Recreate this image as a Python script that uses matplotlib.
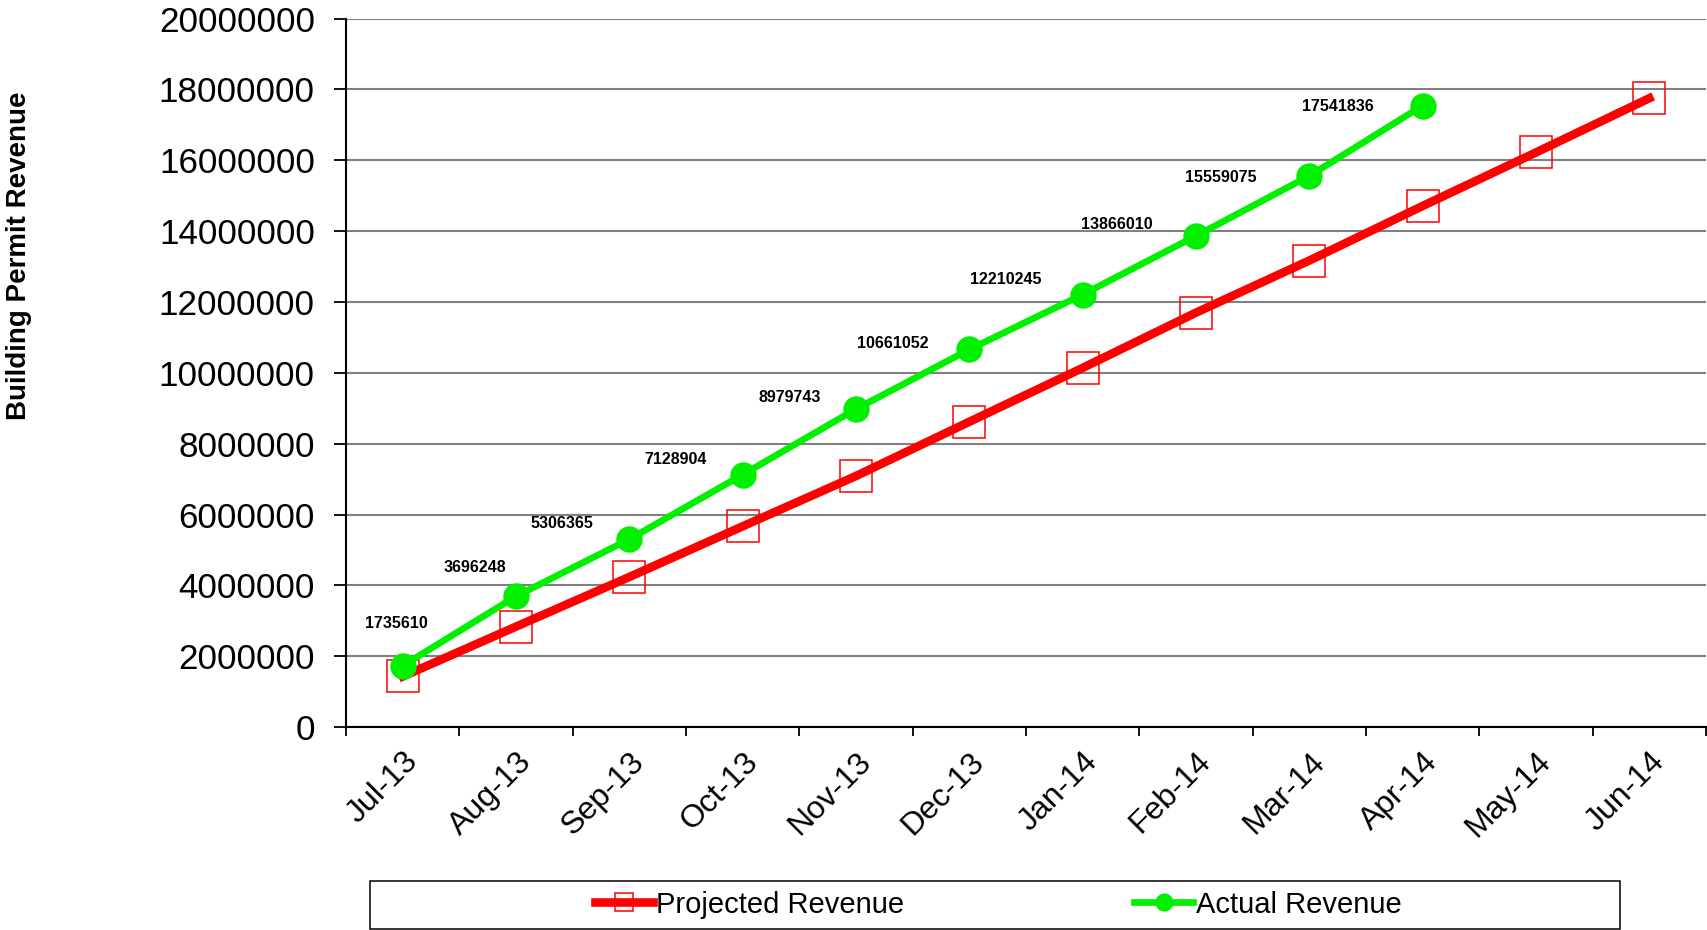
import numpy as np
import matplotlib
matplotlib.use("Agg")
import matplotlib.pyplot as plt
import matplotlib.transforms as mtransforms
from matplotlib.lines import Line2D
from matplotlib.patches import Rectangle

plt.rcParams['font.family'] = ['Liberation Sans', 'DejaVu Sans']

# Data
months = ["Jul-13", "Aug-13", "Sep-13", "Oct-13", "Nov-13", "Dec-13",
          "Jan-14", "Feb-14", "Mar-14", "Apr-14", "May-14", "Jun-14"]
projected = [1430000, 2840000, 4240000, 5670000, 7090000, 8620000,
             10140000, 11700000, 13170000, 14710000, 16220000, 17750000]
actual = [1735610, 3696248, 5306365, 7128904, 8979743, 10661052,
          12210245, 13866010, 15559075, 17541836]
y_ticks = np.arange(0, 20000001, 2000000)

# value label offsets in points (dx, dy up)
label_offsets = [(-5, 30.5), (-30, 21), (-48.5, 11), (-48.5, 11), (-48, 8.5),
                 (-55.5, 4.5), (-55.5, 11), (-57, 8.5), (-63.5, -1), (-61, -1)]

red = "#ff0000"
green = "#00f000"

fig = plt.figure(figsize=(17.07, 9.3), dpi=100)
ax = fig.add_axes([0.2028, 0.2181, 0.7966, 0.762])

x = np.arange(len(months))
xa = np.arange(len(actual))

ax.plot(x, projected, color=red, lw=6.2, marker="s", ms=23,
        mfc="none", mec=red, mew=1.1, zorder=3)
ax.plot(xa, actual, color=green, lw=4.8, marker="o", ms=18,
        mfc=green, mec=green, zorder=4)

for xi, v, (dx, dy) in zip(xa, actual, label_offsets):
    ax.annotate(str(v), (xi, v), xytext=(dx, dy),
                textcoords="offset points", ha="center", va="center",
                fontsize=11.5, fontweight="bold", color="black")

ax.set_xlim(-0.5, len(months) - 0.5)
ax.set_ylim(0, 20000000)
ax.set_yticks(y_ticks)
ax.set_yticklabels([str(t) for t in y_ticks], fontsize=25.2)
ax.yaxis.grid(True, color="#808080", lw=1.5)
ax.set_axisbelow(True)

ax.set_xticks(x)
ax.set_xticklabels(months, rotation=45, ha="right", va="top",
                   rotation_mode="anchor", fontsize=23)
shift = mtransforms.ScaledTranslation(-8 / 72, 0, fig.dpi_scale_trans)
for lbl in ax.get_xticklabels():
    lbl.set_transform(lbl.get_transform() + shift)
ax.set_xticks(np.arange(-0.5, len(months), 1), minor=True)
ax.tick_params(axis="x", which="major", length=0, pad=14)
ax.tick_params(axis="x", which="minor", length=6.5, width=1.3)
ax.tick_params(axis="y", length=8.6, width=1.3, pad=14)

for s in ["top", "right"]:
    ax.spines[s].set_visible(False)
for s in ["left", "bottom"]:
    ax.spines[s].set_linewidth(1.5)

ax.set_ylabel("Building Permit Revenue", fontsize=20, fontweight="bold")
ax.yaxis.set_label_coords(-0.2312, 0.665)

# legend
fig.patches.append(Rectangle((370 / 1707, 1 - 928.5 / 930), 1250 / 1707, 48 / 930,
                             transform=fig.transFigure, fill=False,
                             edgecolor="black", lw=1.1))
handles = [
    Line2D([], [], color=red, lw=6.2, marker="s", ms=12.5, mfc="none", mec=red, mew=1.1),
    Line2D([], [], color=green, lw=4.8, marker="o", ms=12, mfc=green, mec=green),
]
fig.legend(handles, ["Projected Revenue", "Actual Revenue"], ncol=2,
           loc="center", bbox_to_anchor=(998 / 1707, 1 - 904.5 / 930),
           frameon=False, fontsize=21, handlelength=2.0,
           handletextpad=0.1, columnspacing=7.9)

fig.savefig("out.png", dpi=100)
